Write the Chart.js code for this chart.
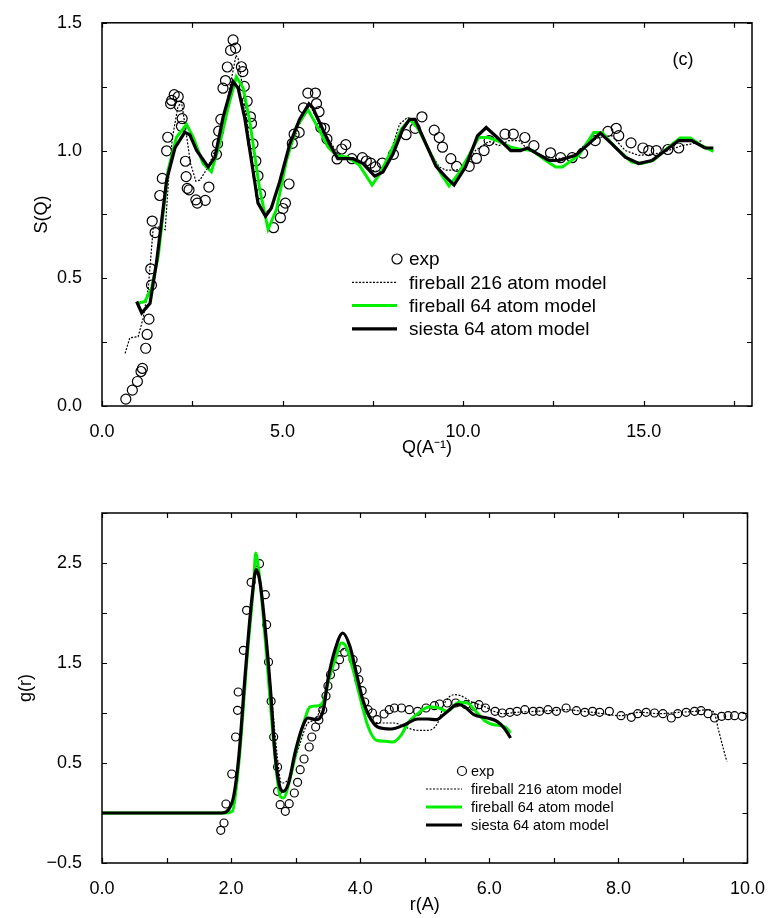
<!DOCTYPE html>
<html>
<head>
<meta charset="utf-8">
<script src="https://cdn.jsdelivr.net/npm/chart.js@4.4.0/dist/chart.umd.min.js"></script>
<style>
  body { margin: 0; background: #fff; }
  canvas { position: absolute; left: 0; }
  #sq-chart { top: 0; }
  #gr-chart { top: 470px; }
</style>
</head>
<body>
<canvas id="sq-chart" width="772" height="470"></canvas>
<canvas id="gr-chart" width="772" height="448"></canvas>
<script>
// ---- S(Q) panel ----
const sqExpQ = [0.66,0.84,0.98,1.08,1.12,1.21,1.25,1.30,1.35,1.37,
  1.39,1.47,1.60,1.67,1.79,1.82,1.90,1.93,2.00,2.11,
  2.14,2.20,2.22,2.31,2.33,2.36,2.41,2.60,2.64,2.86,
  2.96,3.17,3.20,3.23,3.29,3.35,3.42,3.47,3.56,3.63,
  3.70,3.86,3.90,3.94,4.02,4.11,4.14,4.18,4.26,4.32,
  4.39,4.75,4.94,5.01,5.08,5.18,5.27,5.32,5.46,5.58,
  5.70,5.91,5.94,6.01,6.06,6.16,6.23,6.51,6.64,6.75,
  6.92,7.21,7.32,7.44,7.57,7.76,8.07,8.42,8.67,8.86,
  9.20,9.34,9.43,9.66,9.82,10.17,10.37,10.58,10.72,11.16,
  11.39,11.71,11.96,12.42,12.70,13.02,13.31,13.66,14.01,14.24,
  14.31,14.65,14.98,15.14,15.35,15.67,15.97];
const sqExpS = [0.027,0.062,0.096,0.135,0.147,0.226,0.28,0.34,0.537,0.473,
  0.724,0.679,0.824,0.891,0.999,1.052,1.184,1.196,1.219,1.211,
  1.174,1.095,1.125,0.958,0.898,0.852,0.846,0.807,0.794,0.805,
  0.857,0.985,1.027,1.076,1.122,1.244,1.274,1.327,1.392,1.433,
  1.401,1.328,1.309,1.251,1.193,1.132,1.106,1.026,0.959,0.901,
  0.830,0.698,0.737,0.773,0.794,0.869,1.028,1.064,1.071,1.167,
  1.225,1.225,1.184,1.152,1.090,1.087,1.045,0.967,1.006,1.023,
  0.968,0.972,0.959,0.951,0.936,0.951,0.985,1.062,1.087,1.132,
  1.080,1.051,1.013,0.968,0.938,0.938,0.969,1.0,1.039,1.064,
  1.064,1.051,1.019,0.991,0.972,0.972,0.990,1.039,1.075,1.087,
  1.058,1.030,1.010,1.0,1.0,1.004,1.010];

const sqFb216Q = [0.64,0.77,1.0,1.14,1.28,1.42,1.60,1.75,1.85,1.95,
  2.1,2.2,2.3,2.45,2.6,2.71,2.94,3.17,3.45,3.71,
  3.77,3.91,4.09,4.28,4.46,4.69,4.92,5.20,5.47,5.75,
  6.03,6.30,6.53,6.81,7.13,7.41,7.69,7.96,8.24,8.46,
  8.69,9.06,9.34,9.52,9.80,10.07,10.34,10.72,10.99,11.27,
  11.55,11.82,12.19,12.56,13.02,13.39,13.76,14.12,14.49,14.86,
  15.32,15.69,16.05,16.33,16.61];
const sqFb216S = [0.206,0.267,0.271,0.344,0.460,0.70,0.70,0.69,0.90,1.05,
  1.17,1.19,1.10,0.95,0.88,0.884,0.936,1.013,1.180,1.373,
  1.36,1.232,1.026,0.820,0.756,0.769,0.872,1.0,1.103,1.180,
  1.103,1.039,0.987,0.974,0.961,0.923,0.917,0.981,1.103,1.13,
  1.103,1.0,0.936,0.923,0.923,0.936,1.0,1.036,1.019,1.039,
  1.039,1.0,0.981,0.968,0.974,1.026,1.051,1.058,1.0,0.981,
  0.987,1.0,1.019,1.026,1.039];

const sqFb64Q = [1.0,1.19,1.37,1.56,1.83,2.06,2.34,2.53,2.80,3.03,
  3.26,3.49,3.72,3.91,4.09,4.37,4.60,4.83,5.11,5.38,
  5.70,6.03,6.26,6.49,6.81,7.13,7.48,7.73,8.01,8.29,
  8.52,8.76,9.15,9.38,9.61,9.88,10.16,10.43,10.70,10.99,
  11.32,11.55,11.92,12.29,12.56,12.75,13.20,13.62,13.85,14.21,
  14.67,14.95,15.27,15.69,16.01,16.29,16.61,16.93];
const sqFb64S = [0.402,0.409,0.460,0.589,0.923,1.051,1.103,1.051,0.949,0.917,
  1.026,1.167,1.289,1.244,1.116,0.846,0.692,0.769,0.962,1.090,
  1.161,1.077,1.013,0.981,0.974,0.942,0.865,0.917,1.0,1.084,
  1.122,1.084,0.974,0.910,0.861,0.910,0.981,1.051,1.051,1.036,
  1.013,1.006,1.0,0.961,0.936,0.936,0.981,1.071,1.071,1.013,
  0.955,0.949,0.961,1.013,1.049,1.049,1.019,0.997];

const sqSiestaQ = [0.96,1.10,1.33,1.51,1.79,2.02,2.29,2.43,2.62,2.94,
  3.13,3.35,3.63,3.77,3.95,4.18,4.32,4.53,4.69,4.92,
  5.20,5.47,5.73,5.84,6.07,6.30,6.53,6.72,6.95,7.23,
  7.55,7.78,8.06,8.33,8.52,8.67,8.97,9.25,9.52,9.75,
  10.07,10.40,10.64,10.99,11.32,11.59,11.78,12.01,12.38,12.65,
  13.11,13.48,13.80,14.12,14.49,14.86,15.23,15.60,15.97,16.33,
  16.70,16.93];
const sqSiestaS = [0.409,0.364,0.402,0.563,0.884,1.010,1.071,1.062,1.0,0.936,
  0.974,1.129,1.270,1.244,1.129,0.923,0.794,0.743,0.775,0.878,
  1.026,1.122,1.183,1.167,1.096,1.026,0.968,0.968,0.968,0.949,
  0.900,0.916,0.987,1.084,1.122,1.122,1.026,0.938,0.897,0.865,
  0.936,1.058,1.090,1.045,1.0,1.0,1.010,0.991,0.961,0.961,
  0.981,1.026,1.068,1.026,0.974,0.949,0.961,1.0,1.039,1.039,
  1.010,1.010];

// ---- g(r) panel ----
const grExpR = [1.84,1.89,1.92,2.01,2.07,2.10,2.11,2.19,2.24,2.31,
  2.44,2.53,2.55,2.58,2.62,2.66,2.72,2.72,2.76,2.84,
  2.90,2.98,3.03,3.07,3.13,3.21,3.25,3.31,3.36,3.42,
  3.47,3.50,3.54,3.61,3.68,3.76,3.89,3.95,3.98,4.03,
  4.07,4.12,4.19,4.26,4.37,4.45,4.53,4.64,4.76,4.89,
  5.02,5.15,5.23,5.35,5.48,5.64,5.76,5.84,5.94,6.09,
  6.20,6.32,6.43,6.55,6.68,6.78,6.91,7.04,7.19,7.35,
  7.48,7.60,7.71,7.86,8.04,8.20,8.30,8.43,8.56,8.69,
  8.82,8.92,9.05,9.18,9.28,9.39,9.49,9.60,9.70,9.80,
  9.92];
const grExpG = [-0.173,-0.10,0.09,0.39,0.76,1.027,1.21,1.627,2.027,2.307,
  2.493,2.183,1.883,1.51,1.117,0.76,0.46,0.217,0.083,0.017,
  0.093,0.20,0.307,0.433,0.54,0.66,0.76,0.86,0.93,1.03,
  1.17,1.27,1.383,1.467,1.533,1.607,1.533,1.433,1.333,1.223,
  1.11,1.033,1.0,0.933,0.99,1.033,1.05,1.05,1.033,1.017,
  1.05,1.073,1.09,1.10,1.10,1.083,1.067,1.083,1.05,1.017,
  1.0,1.007,1.017,1.033,1.017,1.017,1.033,1.017,1.05,1.023,
  1.007,1.017,1.007,1.017,0.973,0.957,0.993,1.007,1.0,0.993,
  0.95,0.993,1.007,1.017,1.023,0.993,0.95,0.967,0.973,0.973,
  0.967];

const grFb216R = [0,1.90,2.02,2.12,2.25,2.37,2.42,2.50,2.61,2.71,
  2.78,2.86,2.96,3.07,3.19,3.30,3.40,3.53,3.66,3.76,
  3.86,3.96,4.07,4.17,4.32,4.53,4.69,4.89,5.05,5.20,
  5.31,5.46,5.56,5.71,5.92,6.07,6.23,6.43,6.73,7.04,
  7.19,7.45,7.76,8.02,8.33,8.64,8.94,9.20,9.35,9.48,
  9.55,9.63,9.68];
const grFb216G = [0,0,0.017,0.533,1.567,2.367,2.4,2.033,1.3,0.6,
  0.3,0.317,0.467,0.7,0.9,0.933,1.067,1.367,1.6,1.633,
  1.5,1.233,1.033,0.933,0.9,0.9,0.86,0.827,0.827,0.9,
  1.1,1.183,1.173,1.117,1.067,1.017,0.993,1.007,1.017,1.027,
  1.033,1.017,0.993,0.973,1.007,0.993,1.007,1.017,1.033,1.007,
  0.833,0.633,0.517];

const grFb64R = [0,1.92,2.02,2.12,2.25,2.35,2.38,2.45,2.55,2.66,
  2.76,2.81,2.91,3.04,3.14,3.22,3.35,3.43,3.50,3.61,
  3.71,3.78,3.89,4.02,4.12,4.25,4.40,4.51,4.64,4.74,
  4.89,5.07,5.22,5.35,5.53,5.66,5.79,5.94,6.07,6.25,
  6.33];
const grFb64G = [0,0,0.017,0.5,1.567,2.3,2.6,2.3,1.567,0.7,
  0.167,0.15,0.333,0.7,0.933,1.06,1.073,1.117,1.3,1.533,
  1.7,1.667,1.433,1.1,0.867,0.727,0.717,0.71,0.783,0.9,
  0.993,1.06,1.05,1.017,1.107,1.1,1.017,0.917,0.883,0.86,
  0.8];

const grSiestaR = [0,1.86,1.96,2.04,2.12,2.22,2.32,2.39,2.45,2.53,
  2.61,2.68,2.76,2.81,2.89,2.99,3.09,3.19,3.32,3.43,
  3.50,3.61,3.73,3.84,3.94,4.04,4.14,4.27,4.48,4.69,
  4.89,5.05,5.18,5.31,5.51,5.61,5.76,5.97,6.12,6.23,
  6.33];
const grSiestaG = [0,0,0.033,0.167,0.567,1.4,2.133,2.433,2.3,1.833,
  1.233,0.6,0.25,0.217,0.3,0.6,0.833,0.95,0.933,1.033,
  1.333,1.633,1.8,1.667,1.4,1.133,0.967,0.86,0.84,0.883,
  0.94,0.94,0.933,0.993,1.083,1.067,0.983,0.95,0.917,0.85,
  0.75];

const seriesLabels = ['exp', 'fireball 216 atom model', 'fireball 64 atom model', 'siesta 64 atom model'];

const FONT = "'Liberation Sans', Arial, Helvetica, sans-serif";
const GREEN = '#00ee00';
Chart.defaults.font.family = FONT;
Chart.defaults.color = '#000';

const zip = (xs, ys) => xs.map((x, i) => ({ x, y: ys[i] }));
const isMult = (v, s) => Math.abs(v / s - Math.round(v / s)) < 1e-6;

// frame round the plot with inward ticks on all four sides
const frameTicks = {
  id: 'frameTicks',
  afterDraw(chart, args, opts) {
    const { ctx, chartArea: a, scales: { x, y } } = chart;
    ctx.save();
    ctx.strokeStyle = '#000';
    ctx.lineWidth = 1.5;
    ctx.strokeRect(a.left, a.top, a.right - a.left, a.bottom - a.top);
    ctx.lineWidth = 1.2;
    ctx.beginPath();
    for (let v = x.min; v <= x.max + 1e-9; v += opts.xStep) {
      const px = Math.round(x.getPixelForValue(v)) + 0.5;
      ctx.moveTo(px, a.bottom); ctx.lineTo(px, a.bottom - opts.len);
      ctx.moveTo(px, a.top); ctx.lineTo(px, a.top + opts.len);
    }
    for (let v = y.min; v <= y.max + 1e-9; v += opts.yStep) {
      const py = Math.round(y.getPixelForValue(v)) + 0.5;
      ctx.moveTo(a.left, py); ctx.lineTo(a.left + opts.len, py);
      ctx.moveTo(a.right, py); ctx.lineTo(a.right - opts.len, py);
    }
    ctx.stroke();
    if (opts.tag) {
      ctx.font = `18px ${FONT}`;
      ctx.textAlign = 'center';
      ctx.textBaseline = 'middle';
      ctx.fillStyle = '#000';
      ctx.fillText(opts.tag, opts.tagX, opts.tagY);
    }
    ctx.restore();
  }
};

// legend drawn inside the plot area, styled from the datasets
const innerLegend = {
  id: 'innerLegend',
  afterDraw(chart, args, o) {
    const { ctx } = chart;
    ctx.save();
    ctx.font = `${o.size}px ${FONT}`;
    ctx.textBaseline = 'middle';
    ctx.textAlign = 'left';
    chart.data.datasets.forEach((ds, i) => {
      const yy = o.y + i * o.rowH;
      ctx.strokeStyle = ds.borderColor;
      if (!ds.showLine) {
        ctx.lineWidth = 1.2;
        ctx.beginPath();
        ctx.arc(o.x1, yy, o.r, 0, Math.PI * 2);
        ctx.stroke();
      } else {
        ctx.lineWidth = ds.borderWidth;
        ctx.setLineDash(ds.borderDash || []);
        ctx.beginPath();
        ctx.moveTo(o.x0, yy);
        ctx.lineTo(o.x1, yy);
        ctx.stroke();
        ctx.setLineDash([]);
      }
      ctx.fillStyle = '#000';
      ctx.fillText(ds.label, o.textX, yy + 1);
    });
    ctx.restore();
  }
};

function makeDatasets(exp, fb216, fb64, siesta, r, smooth) {
  const line = { showLine: true, pointRadius: 0, fill: false, tension: 0 };
  if (smooth) line.cubicInterpolationMode = 'monotone';
  return [
    { label: seriesLabels[0], data: exp, showLine: false, pointStyle: 'circle', pointRadius: r,
      pointBorderWidth: 1.2, borderColor: '#000', backgroundColor: 'rgba(0,0,0,0)', order: 3 },
    { label: seriesLabels[1], data: fb216, ...line, borderColor: '#000', borderWidth: 1.2,
      borderDash: [2, 1.5], order: 2 },
    { label: seriesLabels[2], data: fb64, ...line, borderColor: GREEN, borderWidth: 3, order: 1 },
    { label: seriesLabels[3], data: siesta, ...line, borderColor: '#000', borderWidth: 3.2, order: 0 }
  ];
}

function axis(cfg) {
  return {
    type: 'linear',
    min: cfg.min, max: cfg.max,
    grid: { display: false },
    border: { display: false },
    ticks: {
      stepSize: cfg.step, autoSkip: false, maxRotation: 0, padding: cfg.pad,
      font: { size: 18 },
      callback: cfg.label
    },
    title: { display: true, text: cfg.title, font: { size: 18 }, padding: cfg.titlePad },
    afterFit: cfg.fit
  };
}

new Chart(document.getElementById('sq-chart'), {
  type: 'scatter',
  data: {
    datasets: makeDatasets(
      zip(sqExpQ, sqExpS), zip(sqFb216Q, sqFb216S),
      zip(sqFb64Q, sqFb64S), zip(sqSiestaQ, sqSiestaS), 5, false)
  },
  options: {
    responsive: false,
    animation: false,
    layout: { padding: { left: 0, top: 17, right: 20, bottom: 0 } },
    plugins: {
      legend: { display: false },
      tooltip: { enabled: false },
      frameTicks: { xStep: 2.5, yStep: 0.25, len: 5, tag: '(c)', tagX: 683, tagY: 60 },
      innerLegend: { x0: 352, x1: 397, textX: 409, y: 259, rowH: 23.3, size: 19, r: 5 }
    },
    scales: {
      x: axis({ min: 0, max: 18, step: 2.5, pad: 7, title: 'Q(A\u207B\u00B9)',
        titlePad: { top: 0, bottom: 11 },
        label: v => isMult(v, 5) ? v.toFixed(1) : '',
        fit: s => { s.height = 64; } }),
      y: axis({ min: 0, max: 1.5, step: 0.25, pad: 12, title: 'S(Q)',
        titlePad: { top: 31, bottom: 0 },
        label: v => isMult(v, 0.5) ? v.toFixed(1) : '',
        fit: s => { s.width = 102; } })
    }
  },
  plugins: [frameTicks, innerLegend]
});

new Chart(document.getElementById('gr-chart'), {
  type: 'scatter',
  data: {
    datasets: makeDatasets(
      zip(grExpR, grExpG), zip(grFb216R, grFb216G),
      zip(grFb64R, grFb64G), zip(grSiestaR, grSiestaG), 4, true)
  },
  options: {
    responsive: false,
    animation: false,
    layout: { padding: { left: 0, top: 43, right: 20, bottom: 0 } },
    plugins: {
      legend: { display: false },
      tooltip: { enabled: false },
      frameTicks: { xStep: 1, yStep: 0.5, len: 5 },
      innerLegend: { x0: 426, x1: 462, textX: 471, y: 301, rowH: 18, size: 14.5, r: 4.5 }
    },
    scales: {
      x: axis({ min: 0, max: 10, step: 1, pad: 7, title: 'r(A)',
        titlePad: { top: 0, bottom: 2 },
        label: v => isMult(v, 2) ? v.toFixed(1) : '',
        fit: s => { s.height = 55; } }),
      y: axis({ min: -0.5, max: 3, step: 0.5, pad: 12, title: 'g(r)',
        titlePad: { top: 15, bottom: 0 },
        label: v => isMult(v + 0.5, 1) ? (v < 0 ? '\u2212' + Math.abs(v).toFixed(1) : v.toFixed(1)) : '',
        fit: s => { s.width = 102; } })
    }
  },
  plugins: [frameTicks, innerLegend]
});
</script>
</body>
</html>
